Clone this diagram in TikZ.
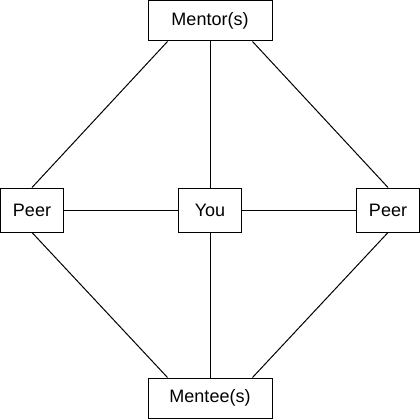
\documentclass[tikz,border=0pt]{standalone}
\usepackage{fontspec}
\setmainfont{Liberation Sans}
\usetikzlibrary{calc}
\begin{document}
\begin{tikzpicture}[
        x=1pt, y=-1pt,
        every node/.style={draw, rectangle, line width=1pt, inner sep=0pt, font=\fontsize{18}{20}\selectfont},
        wide/.style={minimum width=124pt, minimum height=40pt},
        small/.style={minimum width=63pt, minimum height=44pt},
        link/.style={draw, line width=1pt}
        ]
    \useasboundingbox (0,0) rectangle (420,420);
    \node[wide] (mentor) at (210,21) {Mentor(s)};
    \node[small] (peerl) at (32,210) {Peer};
    \node[small] (you) at (210,210) {You};
    \node[small] (peerr) at (388,210) {Peer};
    \node[wide] (mentee) at (210,398) {Mentee(s)};
    \path[link] (mentor) -- (you);
    \path[link] (you) -- (mentee);
    \path[link] (peerl) -- (you);
    \path[link] (you) -- (peerr);
    \path[link] ($(mentor.south west)!0.16!(mentor.south east)$) -- (peerl.north);
    \path[link] ($(mentor.south east)!0.16!(mentor.south west)$) -- (peerr.north);
    \path[link] ($(mentee.north west)!0.16!(mentee.north east)$) -- (peerl.south);
    \path[link] ($(mentee.north east)!0.16!(mentee.north west)$) -- (peerr.south);
\end{tikzpicture}
\end{document}
